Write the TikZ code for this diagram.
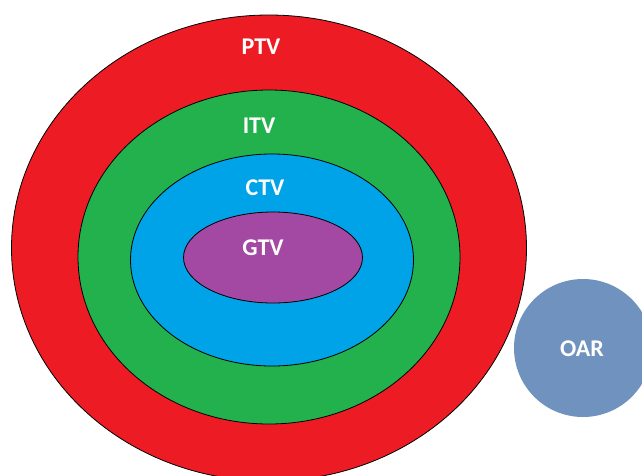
\documentclass[tikz,border=0pt]{standalone}
\usepackage{fontspec}
\setmainfont{Carlito}
\usetikzlibrary{shapes.geometric}
\definecolor{ptvred}{HTML}{ED1C24}
\definecolor{itvgreen}{HTML}{22B14C}
\definecolor{ctvblue}{HTML}{00A2E8}
\definecolor{gtvpurple}{HTML}{A349A4}
\definecolor{oarblue}{HTML}{7092BE}
\begin{document}
\begin{tikzpicture}[x=1pt,y=-1pt,
  vol/.style={ellipse,draw=black,line width=0.8pt,inner sep=0pt},
  lbl/.style={text=white,font=\fontsize{24}{28}\selectfont\bfseries,inner sep=0pt}]
\useasboundingbox (0,0) rectangle (642,475);
\clip (0,0) rectangle (642,475);
\node[vol,fill=ptvred,minimum width=515pt,minimum height=466pt] (ptv) at (269,248) {};
\node[vol,fill=itvgreen,minimum width=382pt,minimum height=334pt] (itv) at (269,257) {};
\node[vol,fill=ctvblue,minimum width=283pt,minimum height=212pt] (ctv) at (272,260) {};
\node[vol,fill=gtvpurple,minimum width=179pt,minimum height=91pt] (gtv) at (273,257.5) {};
\node[ellipse,fill=oarblue,inner sep=0pt,minimum width=138pt,minimum height=138pt] (oar) at (583,348) {};
\node[lbl] (ptvl) at (261,47) {PTV};
\node[lbl] (itvl) at (259,126) {ITV};
\node[lbl] (ctvl) at (265,188) {CTV};
\node[lbl] (gtvl) at (263,248) {GTV};
\node[lbl] (oarl) at (582,349) {OAR};
\end{tikzpicture}
\end{document}
